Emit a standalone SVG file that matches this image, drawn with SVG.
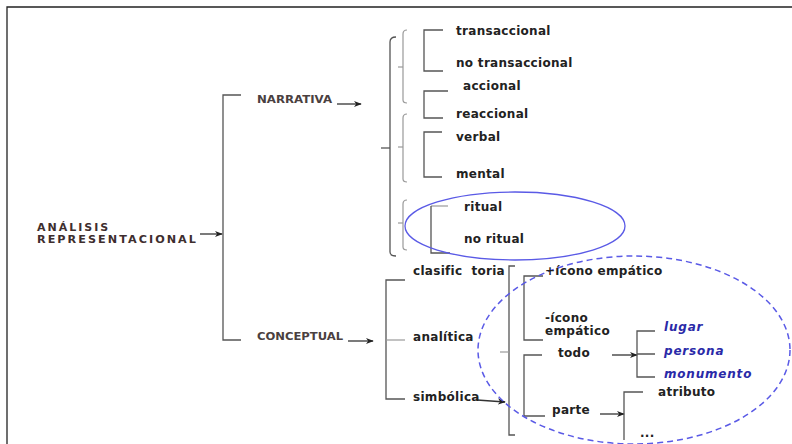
<svg xmlns="http://www.w3.org/2000/svg" width="792" height="444" viewBox="0 0 792 444">
<defs>
<style>
.br{fill:none;stroke:#555;stroke-width:1.3}
.lt{fill:none;stroke:#999;stroke-width:1.2}
.ar{fill:none;stroke:#333;stroke-width:1.3}
.t{font-family:"DejaVu Sans",Verdana,sans-serif;font-weight:bold;font-size:12px;letter-spacing:0.3px;fill:#222}
.cap{font-family:"DejaVu Sans",Verdana,sans-serif;font-weight:bold;font-size:10px;fill:#4a4040}
.main{font-family:"DejaVu Sans",Verdana,sans-serif;font-weight:bold;font-size:11px;fill:#3e2e2e;letter-spacing:2px}
.it{font-family:"DejaVu Sans",Verdana,sans-serif;font-weight:bold;font-style:italic;font-size:12px;letter-spacing:0.8px;fill:#2a2aa8}
</style>
<marker id="ah" viewBox="0 0 10 10" refX="9" refY="5" markerWidth="8" markerHeight="8" orient="auto" markerUnits="userSpaceOnUse">
<path d="M0,1 L10,5 L0,9 L3,5 Z" fill="#222"/>
</marker>
</defs>
<rect x="0" y="0" width="792" height="444" fill="#fff"/>
<path d="M7,444 V7 H792" fill="none" stroke="#222" stroke-width="1.3"/>

<g id="connectors">
<path class="br" d="M241,95 H223 V340 H241"/>
<path class="ar" d="M200,234 H222" marker-end="url(#ah)"/>
<path class="ar" d="M337,104 H361" marker-end="url(#ah)"/>
<path class="ar" d="M348,341 H373" marker-end="url(#ah)"/>
<path class="br" d="M396,37 Q390,37 390,42 V252 Q390,256 396,256"/>
<path class="br" d="M381,148 H390"/>
<path class="lt" d="M407,30 Q403,30 403,34 V100 Q403,103 407,103"/>
<path class="lt" d="M398,67 H403"/>
<path class="lt" d="M407,114 Q403,114 403,118 V179 Q403,182 407,182"/>
<path class="lt" d="M398,147 H403"/>
<path class="lt" d="M407,200 Q403,200 403,204 V247 Q403,250 407,250"/>
<path class="lt" d="M398,223 H403"/>
<path class="br" d="M443,30 H424 V71 H443"/>
<path class="br" d="M448,91 H424 V118 H443"/>
<path class="br" d="M442,132 H424 V177 H442"/>
<path class="lt" d="M448,206 H431"/>
<path class="br" d="M431,206 V253 H450"/>
<path class="br" d="M405,280 H386 V399 H405"/>
<path class="lt" d="M386,340 H405"/>
<path class="ar" d="M477,400 L505,402" marker-end="url(#ah)"/>
<path class="br" d="M515,266 H509 V435 H515"/>
<path class="lt" d="M500,352 H509"/>
<path class="br" d="M543,276 H524 V340 H543"/>
<path class="br" d="M542,355 H524 V416 H545"/>
<path class="ar" d="M612,355 H637" marker-end="url(#ah)"/>
<path class="br" d="M655,331 H637 V377 H655 M637,354 H655"/>
<path class="ar" d="M600,414 H624" marker-end="url(#ah)"/>
<path class="br" d="M643,392 H624 V440"/>
</g>

<g id="ellipses">
<ellipse cx="515" cy="226" rx="110" ry="34" fill="none" stroke="#5a5ae6" stroke-width="1.3"/>
<ellipse cx="634" cy="350" rx="156" ry="94" fill="none" stroke="#5a5ae6" stroke-width="1.5" stroke-dasharray="6 4"/>
</g>

<g id="root"><text class="main" x="37" y="231">ANÁLISIS</text><text class="main" x="37" y="243" textLength="161" lengthAdjust="spacingAndGlyphs">REPRESENTACIONAL</text></g>
<g id="narrativa"><text class="cap" x="257" y="103" textLength="75" lengthAdjust="spacingAndGlyphs">NARRATIVA</text></g>
<g id="conceptual"><text class="cap" x="257" y="340" textLength="86" lengthAdjust="spacingAndGlyphs">CONCEPTUAL</text></g>
<g id="transaccional"><text class="t" x="456" y="35">transaccional</text></g>
<g id="no-transaccional"><text class="t" x="456" y="67">no transaccional</text></g>
<g id="accional"><text class="t" x="463" y="90">accional</text></g>
<g id="reaccional"><text class="t" x="456" y="118">reaccional</text></g>
<g id="verbal"><text class="t" x="456" y="141">verbal</text></g>
<g id="mental"><text class="t" x="456" y="178">mental</text></g>
<g id="ritual"><text class="t" x="464" y="211">ritual</text></g>
<g id="no-ritual"><text class="t" x="464" y="243">no ritual</text></g>
<g id="clasificatoria"><text class="t" x="413" y="275" xml:space="preserve">clasific  toria</text></g>
<g id="analitica"><text class="t" x="413" y="341">analítica</text></g>
<g id="simbolica"><text class="t" x="413" y="401">simbólica</text></g>
<g id="icono-pos"><text class="t" x="545" y="275">+ícono empático</text></g>
<g id="icono-neg"><text class="t" x="545" y="322">-ícono</text><text class="t" x="545" y="335">empático</text></g>
<g id="todo"><text class="t" x="558" y="357">todo</text></g>
<g id="parte"><text class="t" x="552" y="414">parte</text></g>
<g id="lugar"><text class="it" x="664" y="331">lugar</text></g>
<g id="persona"><text class="it" x="664" y="355">persona</text></g>
<g id="monumento"><text class="it" x="664" y="378">monumento</text></g>
<g id="atributo"><text class="t" x="658" y="396">atributo</text></g>
<g id="etc"><text class="t" x="640" y="437">...</text></g>
</svg>
